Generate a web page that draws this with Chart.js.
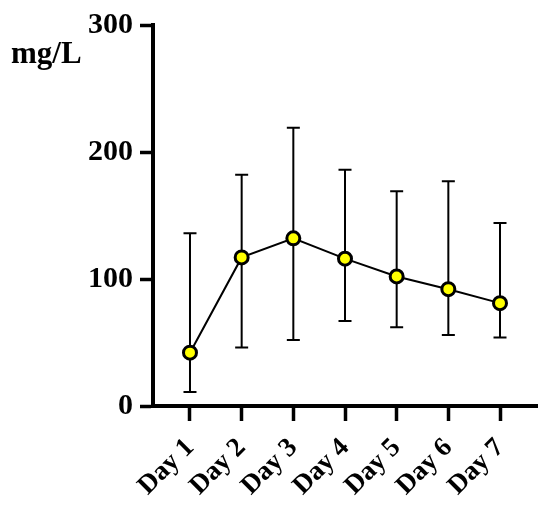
<!DOCTYPE html>
<html lang="en">
  <head>
    <meta charset="UTF-8" />
    <title>mg/L by day</title>
    <script src="https://cdn.jsdelivr.net/npm/chart.js"></script>
    <style>
      html, body { margin: 0; padding: 0; background: #fff; }
      #wrap { width: 550px; height: 507px; }
    </style>
  </head>
  <body>
    <div id="wrap"><canvas id="chartCanvas"></canvas></div>

    <script>
      // values
      let days = ["Day 1", "Day 2", "Day 3", "Day 4", "Day 5", "Day 6", "Day 7"];
      let means = [42, 117, 132, 116, 102, 92, 81];
      let upper = [136, 182, 219, 186, 169, 177, 144];
      let lower = [11, 46, 52, 67, 62, 56, 54];
      let yTicks = [0, 100, 200, 300];
      let unitLabel = "mg/L";

      let fontFamily = "'Liberation Serif', 'Times New Roman', serif";

      // error bars go under the line and the dots
      let errorBars = {
        id: "errorBars",
        beforeDatasetsDraw(chart) {
          let ctx = chart.ctx;
          let x = chart.scales.x;
          let y = chart.scales.y;
          ctx.save();
          ctx.strokeStyle = "#000";
          ctx.lineWidth = 2;
          for (let i = 0; i < means.length; i++) {
            let px = x.getPixelForValue(i + 1);
            let top = y.getPixelForValue(upper[i]);
            let bot = y.getPixelForValue(lower[i]);
            ctx.beginPath();
            ctx.moveTo(px, top);
            ctx.lineTo(px, bot);
            ctx.moveTo(px - 6.5, top);
            ctx.lineTo(px + 6.5, top);
            ctx.moveTo(px - 6.5, bot);
            ctx.lineTo(px + 6.5, bot);
            ctx.stroke();
          }
          ctx.restore();
        },
      };

      // unit label sits flat at the top left
      let unitText = {
        id: "unitText",
        afterDraw(chart) {
          let ctx = chart.ctx;
          ctx.save();
          ctx.fillStyle = "#000";
          ctx.font = "bold 31px " + fontFamily;
          ctx.textBaseline = "alphabetic";
          ctx.textAlign = "left";
          ctx.fillText(unitLabel, 11, 63);
          ctx.restore();
        },
      };

      let ctx = document.getElementById("chartCanvas").getContext("2d");
      new Chart(ctx, {
        type: "line",
        data: {
          datasets: [
            {
              data: means.map((v, i) => ({ x: i + 1, y: v })),
              borderColor: "#000",
              borderWidth: 2,
              pointRadius: 6.5,
              pointBorderWidth: 3,
              pointBackgroundColor: "#ffff00",
              pointBorderColor: "#000",
              fill: false,
              tension: 0,
            },
          ],
        },
        options: {
          responsive: true,
          maintainAspectRatio: false,
          animation: false,
          layout: { padding: { left: 0, right: 13, top: 25, bottom: 0 } },
          plugins: {
            legend: { display: false },
            tooltip: { enabled: false },
          },
          scales: {
            x: {
              type: "linear",
              min: 0.284,
              max: 7.716,
              afterBuildTicks(scale) {
                scale.ticks = days.map((d, i) => ({ value: i + 1 }));
              },
              afterFit(scale) {
                scale.height = 101;
              },
              border: { display: true, color: "#000", width: 4 },
              grid: {
                drawOnChartArea: false,
                drawTicks: true,
                tickLength: 15,
                tickWidth: 3.5,
                tickColor: "#000",
              },
              ticks: {
                color: "#000",
                font: { family: fontFamily, size: 27, weight: "bold" },
                minRotation: 45,
                maxRotation: 45,
                padding: 11,
                callback: (v) => days[v - 1],
              },
            },
            y: {
              min: 0,
              max: 300,
              afterBuildTicks(scale) {
                scale.ticks = yTicks.map((v) => ({ value: v }));
              },
              afterFit(scale) {
                scale.width = 153;
              },
              border: { display: true, color: "#000", width: 4 },
              grid: {
                drawOnChartArea: false,
                drawTicks: true,
                tickLength: 13,
                tickWidth: 3.5,
                tickColor: "#000",
              },
              ticks: {
                color: "#000",
                font: { family: fontFamily, size: 30, weight: "bold" },
                padding: 7,
              },
            },
          },
        },
        plugins: [errorBars, unitText],
      });
    </script>
  </body>
</html>
